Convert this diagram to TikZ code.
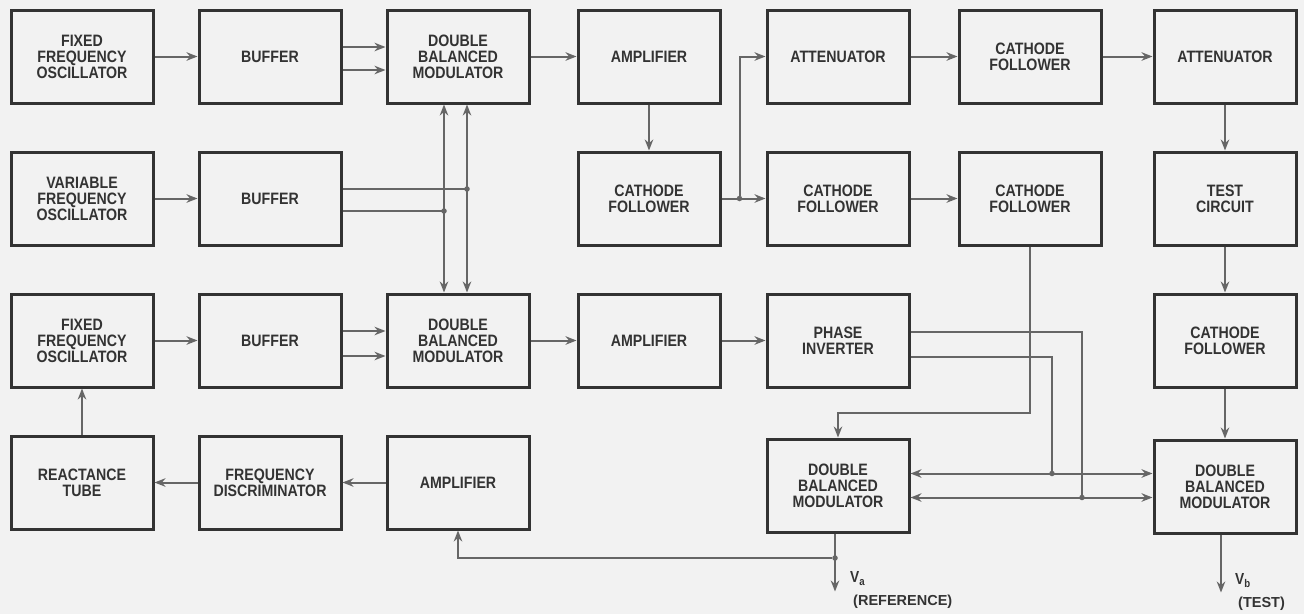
\documentclass[tikz,border=0pt]{standalone}
\usepackage{fontspec}
\setmainfont{Liberation Sans}
\newfontfamily\blockfont[FakeStretch=0.86]{Liberation Sans}
\usepackage{tikz}
\usetikzlibrary{arrows.meta,positioning,calc}
\definecolor{inkgray}{HTML}{333333}
\definecolor{wiregray}{HTML}{666666}
\definecolor{papergray}{HTML}{F2F2F2}

\begin{document}
\begin{tikzpicture}[
  x=1pt, y=1pt,
  node distance=46pt and 43pt,
  box/.style={draw=inkgray, line width=3pt, align=center, minimum width=142pt, minimum height=93pt, inner sep=2pt, text=inkgray, font=\blockfont\bfseries\fontsize{16.5}{16}\selectfont},
  wire/.style={draw=wiregray, line width=2pt},
  arr/.style={wire, -{Stealth[length=11pt,width=8.5pt]}},
  darr/.style={wire, {Stealth[length=11pt,width=8.5pt]}-{Stealth[length=11pt,width=8.5pt]}},
  dot/.style={circle, fill=wiregray, inner sep=0pt, minimum size=5.5pt},
  vlbl/.style={text=inkgray, inner sep=0pt, font=\blockfont\bfseries\fontsize{16}{16}\selectfont},
  tlbl/.style={text=inkgray, inner sep=0pt, font=\bfseries\fontsize{14.5}{14}\selectfont}
]
\fill[papergray] (0,0) rectangle (1304,-614);
\useasboundingbox (0,0) rectangle (1304,-614);

% first row
\node[box] (ffoa) at (82,-56.5) {FIXED\\FREQUENCY\\OSCILLATOR};
\node[box, right=of ffoa] (bufa) {BUFFER};
\node[box, right=of bufa] (dbma) {DOUBLE\\BALANCED\\MODULATOR};
\node[box, right=46pt of dbma] (ampa) {AMPLIFIER};
\node[box, right=44pt of ampa] (atta) {ATTENUATOR};
\node[box, right=47pt of atta] (cfa) {CATHODE\\FOLLOWER};
\node[box, right=50pt of cfa] (attb) {ATTENUATOR};

% second row
\node[box, below=of ffoa] (vfo) {VARIABLE\\FREQUENCY\\OSCILLATOR};
\node[box, below=of bufa] (bufb) {BUFFER};
\node[box, below=of ampa] (cfb) {CATHODE\\FOLLOWER};
\node[box, below=of atta] (cfc) {CATHODE\\FOLLOWER};
\node[box, below=of cfa] (cfd) {CATHODE\\FOLLOWER};
\node[box, below=of attb] (test) {TEST\\CIRCUIT};

% third row
\node[box, below=of vfo] (ffob) {FIXED\\FREQUENCY\\OSCILLATOR};
\node[box, right=of ffob] (bufc) {BUFFER};
\node[box, right=of bufc] (dbmb) {DOUBLE\\BALANCED\\MODULATOR};
\node[box, right=46pt of dbmb] (ampb) {AMPLIFIER};
\node[box, right=44pt of ampb] (inv) {PHASE\\INVERTER};
\node[box, below=of test] (cfe) {CATHODE\\FOLLOWER};

% fourth row
\node[box, below=of ffob] (react) {REACTANCE\\TUBE};
\node[box, below=of bufc] (disc) {FREQUENCY\\DISCRIMINATOR};
\node[box, below=of dbmb] (ampc) {AMPLIFIER};
\node[box, below=49pt of inv] (dbmref) {DOUBLE\\BALANCED\\MODULATOR};
\node[box, below=50pt of cfe] (dbmtest) {DOUBLE\\BALANCED\\MODULATOR};

% reference chain
\draw[arr] (ffoa) -- (bufa);
\coordinate (ba1) at ([yshift=9.5pt]bufa.east);
\coordinate (ba2) at ([yshift=-13.5pt]bufa.east);
\draw[arr] (ba1) -- (ba1 -| dbma.west);
\draw[arr] (ba2) -- (ba2 -| dbma.west);
\draw[arr] (dbma) -- (ampa);
\draw[arr] (ampa) -- (cfb);
\draw[arr] (cfb) -- (cfc);
\node[dot] (j3) at ([xshift=18pt]cfb.east) {};
\draw[arr] (j3) |- (atta);
\draw[arr] (atta) -- (cfa);
\draw[arr] (cfa) -- (attb);
\draw[arr] (cfc) -- (cfd);
\draw[arr] (attb) -- (test);
\draw[arr] (test) -- (cfe);
\draw[arr] (cfe) -- (dbmtest);

% variable oscillator feeds both modulators
\draw[arr] (vfo) -- (bufb);
\coordinate (va1) at ([xshift=-14pt]dbma.south);
\coordinate (va2) at ([xshift=9pt]dbma.south);
\draw[darr] (va1) -- (va1 |- dbmb.north);
\draw[darr] (va2) -- (va2 |- dbmb.north);
\coordinate (bb1) at ([yshift=9.5pt]bufb.east);
\coordinate (bb2) at ([yshift=-12.5pt]bufb.east);
\draw[wire] (bb1) -- (bb1 -| va2);
\draw[wire] (bb2) -- (bb2 -| va1);
\node[dot] (j1) at (bb1 -| va2) {};
\node[dot] (j2) at (bb2 -| va1) {};

% second chain
\draw[arr] (ffob) -- (bufc);
\coordinate (bc1) at ([yshift=9.5pt]bufc.east);
\coordinate (bc2) at ([yshift=-15.5pt]bufc.east);
\draw[arr] (bc1) -- (bc1 -| dbmb.west);
\draw[arr] (bc2) -- (bc2 -| dbmb.west);
\draw[arr] (dbmb) -- (ampb);
\draw[arr] (ampb) -- (inv);

% phase inverter to the two modulators
\coordinate (p1) at ([yshift=8.5pt]inv.east);
\coordinate (p2) at ([yshift=-16.5pt]inv.east);
\coordinate (r1) at ([yshift=12pt]dbmref.east);
\coordinate (r2) at ([yshift=-12pt]dbmref.east);
\draw[darr] (r1) -- (r1 -| dbmtest.west);
\draw[darr] (r2) -- (r2 -| dbmtest.west);
\node[dot] (j4) at ([xshift=141.5pt]r1) {};
\node[dot] (j5) at ([xshift=171.5pt]r2) {};
\draw[wire] (p2) -| (j4);
\draw[wire] (p1) -| (j5);
\coordinate (k1) at ($(inv.south)!0.5!(dbmref.north)$);
\draw[arr] (cfd.south) |- (k1) -- (dbmref.north);

% afc loop
\draw[arr] (ampc) -- (disc);
\draw[arr] (disc) -- (react);
\draw[arr] (react) -- (ffob);

% outputs
\coordinate (vouta) at ([xshift=-3pt,yshift=-58pt]dbmref.south);
\coordinate (voutb) at ([xshift=-4pt,yshift=-58pt]dbmtest.south);
\draw[arr] ([xshift=-3pt]dbmref.south) -- (vouta);
\draw[arr] ([xshift=-4pt]dbmtest.south) -- (voutb);
\node[dot] (j6) at ([xshift=-3pt,yshift=-24.5pt]dbmref.south) {};
\draw[arr] (j6) -| (ampc.south);
\node[vlbl, anchor=west] (vala) at ([xshift=12pt,yshift=-45pt]dbmref.south) {V\textsubscript{a}};
\node[tlbl, anchor=north west] (refl) at ([xshift=3pt,yshift=-9pt]vala.south west) {(REFERENCE)};
\node[vlbl, anchor=west] (valb) at ([xshift=10pt,yshift=-46pt]dbmtest.south) {V\textsubscript{b}};
\node[tlbl, anchor=north west] (testl) at ([xshift=3pt,yshift=-9pt]valb.south west) {(TEST)};
\end{tikzpicture}
\end{document}
